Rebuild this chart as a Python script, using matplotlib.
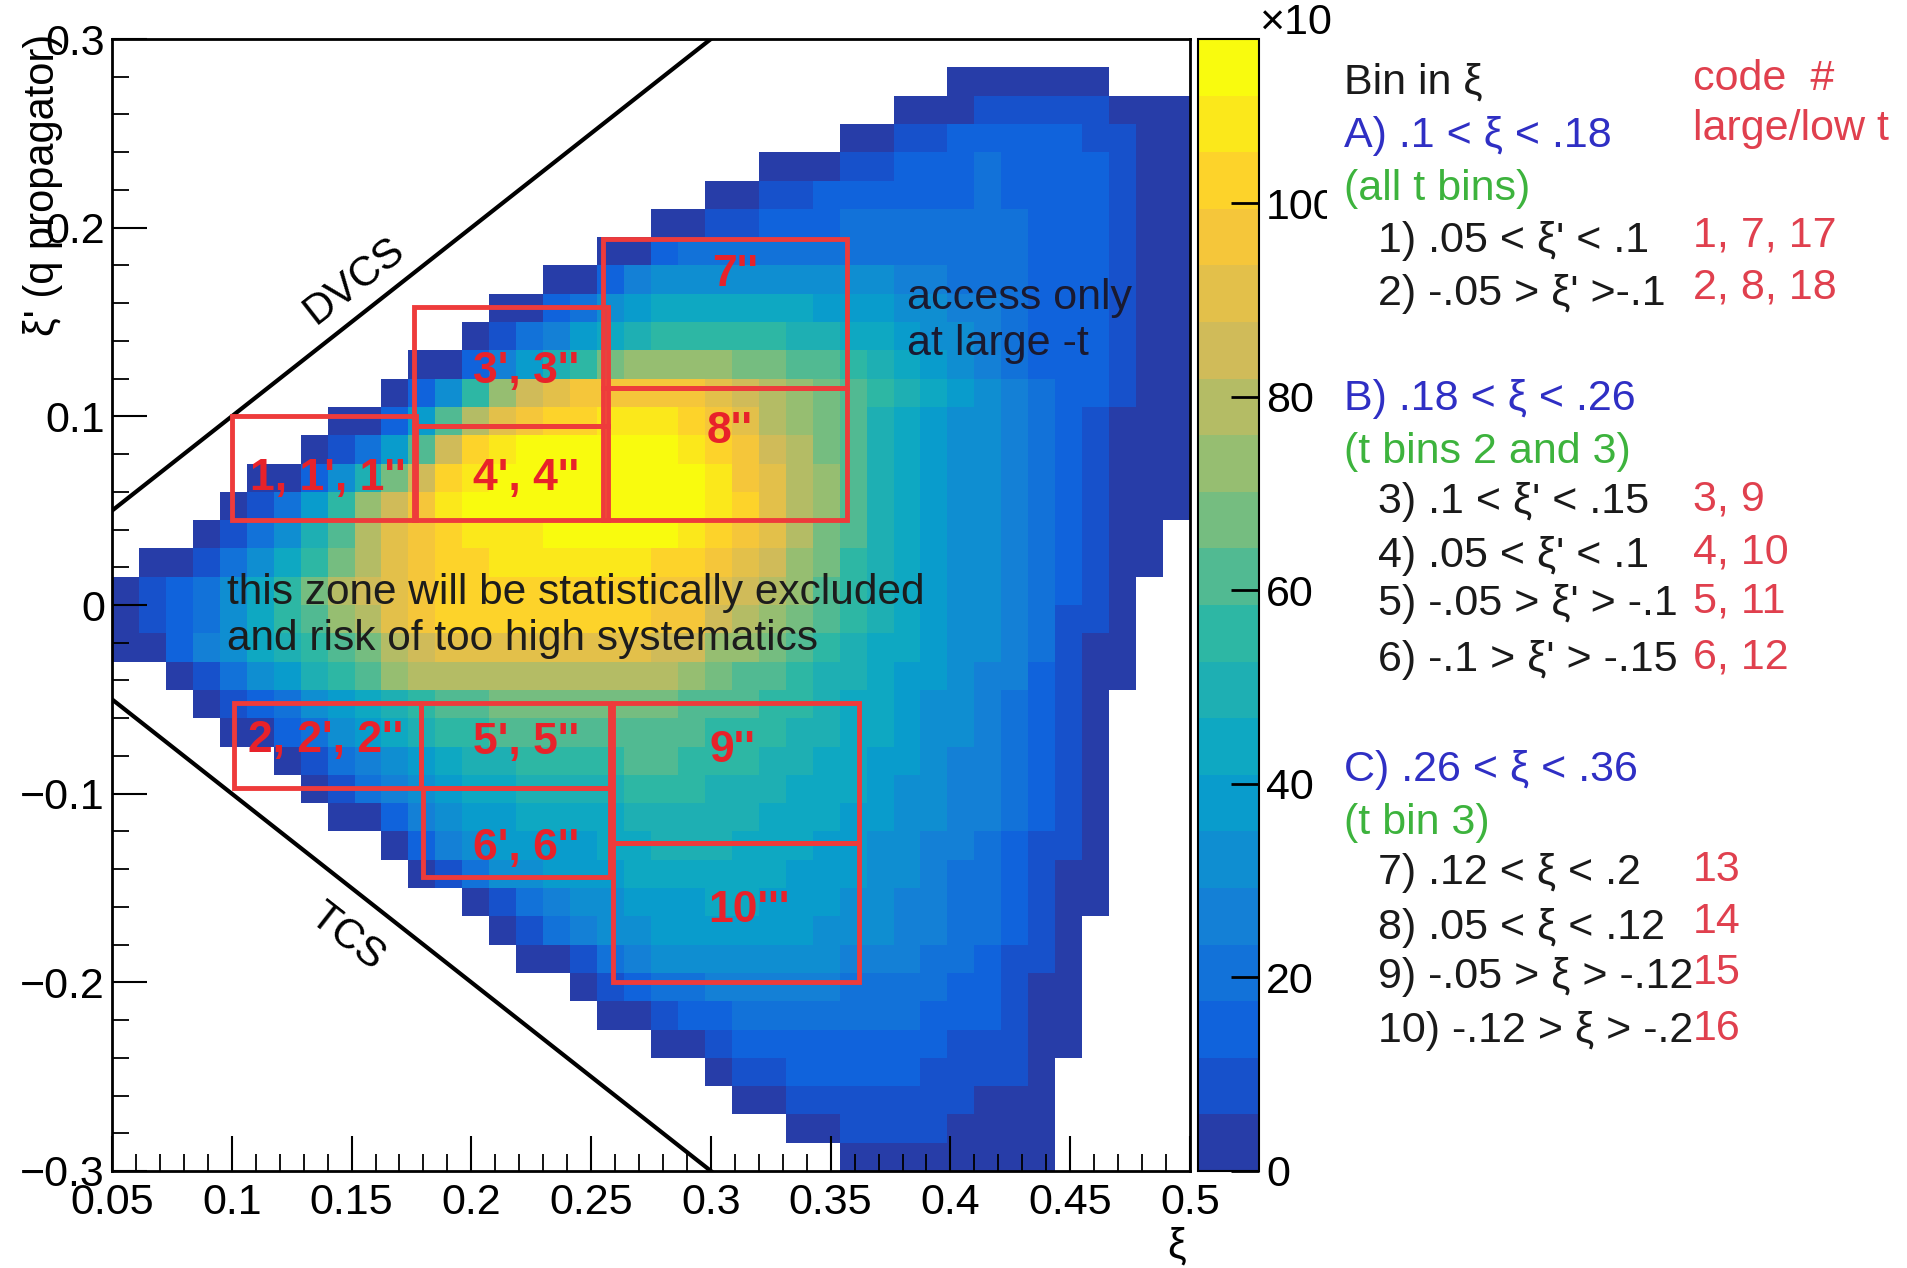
import numpy as np
import matplotlib
matplotlib.use("Agg")
import matplotlib.pyplot as plt
from matplotlib.colors import LinearSegmentedColormap, ListedColormap, BoundaryNorm
from matplotlib.patches import Rectangle

plt.rcParams['font.family'] = ['Liberation Sans', 'DejaVu Sans']

# ---------------- data ----------------
XI_EDGES = np.linspace(0.05, 0.5, 41)      # 40 bins in xi
XIP_EDGES = np.linspace(-0.3, 0.3, 41)     # 40 bins in xi'
Z_MAX = 117.0
N_LEVELS = 20

# first filled column of each row (row 0 = top of plot)
ROW_START = [0, 31, 29, 27, 24, 22, 20, 18, 16, 14,
             13, 11, 10, 8, 7, 5, 4, 3, 1, 0,
             0, 0, 2, 3, 4, 6, 7, 8, 10, 11,
             13, 14, 15, 17, 18, 20, 22, 23, 25, 27]

# colour-band index (0..19) read for each filled cell, left to right
ROW_LEVELS = [
    [],
    [0, 0, 0, 0, 0, 0],
    [0, 0, 0, 1, 1, 1, 1, 1, 0, 0, 0],
    [0, 0, 1, 1, 2, 2, 2, 2, 2, 1, 1, 0, 0],
    [0, 0, 0, 1, 1, 2, 2, 2, 3, 2, 2, 2, 2, 1, 0, 0],
    [0, 0, 1, 1, 2, 2, 2, 2, 2, 2, 3, 2, 2, 2, 2, 1, 0, 0],
    [0, 0, 1, 1, 2, 2, 2, 3, 3, 3, 3, 3, 3, 3, 2, 2, 2, 1, 0, 0],
    [0, 0, 2, 3, 3, 3, 3, 3, 3, 3, 3, 3, 3, 3, 3, 3, 2, 2, 2, 1, 0, 0],
    [0, 0, 2, 4, 5, 5, 5, 5, 5, 5, 5, 5, 5, 4, 4, 3, 3, 3, 2, 2, 2, 1, 0, 0],
    [0, 0, 2, 3, 5, 6, 7, 7, 7, 7, 7, 7, 6, 6, 6, 5, 5, 4, 4, 3, 2, 2, 2, 1, 0, 0],
    [0, 1, 3, 4, 6, 7, 8, 9, 9, 9, 9, 9, 8, 8, 7, 7, 6, 5, 5, 4, 3, 2, 2, 2, 1, 0, 0],
    [0, 0, 2, 4, 6, 8, 9, 11, 12, 12, 12, 12, 11, 11, 10, 10, 9, 8, 7, 6, 5, 4, 3, 2, 2, 2, 1, 0, 0],
    [0, 2, 5, 9, 12, 14, 15, 16, 16, 16, 16, 16, 15, 14, 13, 12, 11, 10, 9, 8, 7, 6, 5, 4, 3, 2, 2, 1, 0, 0],
    [0, 0, 2, 6, 10, 13, 15, 16, 17, 17, 18, 18, 18, 17, 16, 15, 13, 12, 11, 10, 8, 7, 6, 5, 5, 4, 3, 2, 1, 0, 0, 0],
    [0, 1, 3, 6, 10, 14, 17, 18, 19, 19, 19, 19, 19, 19, 18, 17, 16, 14, 13, 11, 10, 8, 7, 6, 5, 5, 4, 3, 2, 1, 0, 0, 0],
    [0, 0, 2, 5, 8, 11, 14, 17, 18, 19, 19, 19, 19, 19, 19, 19, 19, 18, 16, 15, 13, 12, 10, 8, 7, 6, 5, 5, 4, 3, 2, 1, 0, 0, 0],
    [0, 1, 3, 6, 9, 12, 14, 16, 18, 19, 19, 19, 19, 19, 19, 19, 19, 19, 18, 17, 15, 13, 12, 10, 8, 7, 6, 5, 5, 4, 3, 2, 1, 0, 0, 0],
    [0, 1, 3, 5, 8, 10, 13, 15, 16, 17, 18, 18, 18, 19, 19, 19, 19, 19, 18, 17, 16, 15, 13, 11, 10, 8, 7, 6, 5, 5, 4, 3, 2, 1, 0, 0],
    [0, 0, 1, 3, 5, 7, 9, 11, 13, 15, 16, 17, 17, 18, 18, 18, 18, 18, 18, 17, 17, 16, 15, 14, 12, 11, 9, 8, 7, 6, 5, 5, 4, 3, 2, 1, 0, 0],
    [0, 1, 2, 3, 5, 7, 9, 11, 13, 14, 15, 16, 17, 17, 17, 17, 17, 17, 17, 17, 16, 16, 15, 14, 13, 12, 10, 9, 8, 7, 6, 5, 5, 4, 3, 2, 1, 0],
    [0, 1, 2, 3, 5, 7, 9, 10, 12, 13, 15, 16, 17, 17, 17, 17, 17, 17, 17, 17, 16, 16, 14, 13, 12, 11, 10, 9, 8, 7, 6, 5, 5, 4, 3, 1, 1, 0],
    [0, 0, 2, 4, 5, 7, 8, 9, 10, 11, 13, 14, 15, 15, 15, 15, 15, 15, 15, 15, 14, 14, 12, 12, 11, 10, 9, 8, 7, 7, 6, 5, 5, 4, 3, 1, 0, 0],
    [0, 1, 3, 5, 6, 8, 9, 10, 12, 13, 13, 13, 13, 13, 13, 13, 13, 13, 13, 12, 11, 10, 10, 9, 8, 8, 7, 6, 6, 5, 4, 4, 2, 1, 0, 0],
    [0, 1, 2, 3, 5, 6, 7, 8, 9, 10, 10, 11, 11, 11, 11, 11, 11, 11, 10, 10, 10, 9, 9, 8, 7, 7, 6, 5, 5, 4, 3, 2, 1, 0],
    [0, 0, 2, 3, 5, 6, 7, 8, 9, 9, 10, 10, 10, 10, 10, 10, 10, 10, 9, 9, 9, 8, 8, 7, 7, 6, 5, 5, 4, 3, 2, 1, 0],
    [0, 1, 3, 4, 5, 6, 7, 8, 8, 9, 9, 9, 9, 10, 10, 9, 9, 9, 8, 8, 7, 7, 6, 6, 5, 4, 4, 3, 2, 1, 0],
    [0, 1, 3, 4, 5, 6, 7, 7, 8, 8, 8, 8, 9, 9, 9, 8, 8, 8, 7, 7, 7, 6, 5, 5, 4, 4, 3, 2, 1, 0],
    [0, 0, 2, 4, 5, 6, 6, 7, 7, 7, 7, 8, 8, 8, 8, 8, 7, 7, 7, 6, 6, 5, 5, 4, 4, 3, 2, 1, 0],
    [0, 2, 4, 5, 6, 6, 6, 6, 7, 7, 8, 8, 8, 7, 7, 7, 6, 6, 5, 5, 4, 4, 3, 2, 1, 1, 0],
    [0, 1, 3, 5, 5, 6, 6, 6, 7, 7, 7, 7, 7, 7, 6, 6, 6, 5, 5, 4, 3, 3, 2, 1, 0, 0],
    [0, 1, 3, 4, 5, 5, 6, 6, 6, 7, 7, 6, 6, 6, 5, 5, 4, 4, 3, 3, 2, 1, 0, 0],
    [0, 1, 3, 4, 5, 5, 6, 6, 6, 6, 6, 6, 5, 5, 5, 4, 4, 3, 3, 2, 1, 0],
    [0, 0, 1, 3, 4, 5, 5, 5, 5, 5, 5, 5, 4, 4, 4, 3, 3, 2, 1, 1, 0],
    [0, 1, 2, 3, 3, 4, 4, 4, 4, 4, 3, 3, 3, 3, 2, 2, 1, 0, 0],
    [0, 0, 1, 2, 2, 3, 3, 3, 3, 3, 3, 3, 2, 2, 2, 1, 0, 0],
    [0, 0, 1, 2, 2, 2, 2, 2, 2, 2, 2, 1, 1, 1, 0, 0],
    [0, 1, 1, 2, 2, 2, 2, 2, 1, 1, 1, 1, 0],
    [0, 0, 1, 1, 1, 1, 1, 1, 1, 0, 0, 0],
    [0, 0, 1, 1, 1, 1, 0, 0, 0, 0],
    [0, 0, 0, 0, 0, 0, 0, 0],
]

X_TICKS = [0.05, 0.1, 0.15, 0.2, 0.25, 0.3, 0.35, 0.4, 0.45, 0.5]
X_TICK_LABELS = ["0.05", "0.1", "0.15", "0.2", "0.25", "0.3", "0.35", "0.4", "0.45", "0.5"]
Y_TICKS = [-0.3, -0.2, -0.1, 0.0, 0.1, 0.2, 0.3]
Y_TICK_LABELS = ["\u22120.3", "\u22120.2", "\u22120.1", "0", "0.1", "0.2", "0.3"]
CB_TICKS = [0, 20, 40, 60, 80, 100]
CB_TICK_LABELS = ["0", "20", "40", "60", "80", "100"]

# red analysis boxes: (label, xi_min, xi_max, xip_min, xip_max, label_xi, label_xip)
BOXES = [
    ("1, 1', 1''", 0.100, 0.177, 0.045, 0.100, 0.140, 0.067),
    ("3', 3''",    0.176, 0.257, 0.095, 0.158, 0.223, 0.124),
    ("4', 4''",    0.176, 0.257, 0.045, 0.095, 0.223, 0.067),
    ("7''",        0.255, 0.357, 0.115, 0.194, 0.310, 0.175),
    ("8''",        0.255, 0.357, 0.045, 0.115, 0.308, 0.092),
    ("2, 2', 2''", 0.101, 0.179, -0.097, -0.052, 0.139, -0.072),
    ("5', 5''",    0.179, 0.258, -0.097, -0.052, 0.223, -0.073),
    ("6', 6''",    0.180, 0.258, -0.144, -0.097, 0.223, -0.129),
    ("9''",        0.259, 0.362, -0.126, -0.052, 0.309, -0.077),
    ("10'''",      0.259, 0.362, -0.200, -0.126, 0.316, -0.162),
]

# legend block (text, colour key, x px, y px)
LEGEND_LINES = [
    ("Bin in \u03be", "k", 1344, 83),
    ("A) .1 < \u03be < .18", "b", 1344, 136),
    ("(all t bins)", "g", 1344, 189),
    ("1) .05 < \u03be' < .1", "k", 1378, 241),
    ("2) -.05 > \u03be' >-.1", "k", 1378, 294),
    ("B) .18 < \u03be < .26", "b", 1344, 399),
    ("(t bins 2 and 3)", "g", 1344, 452),
    ("3) .1 < \u03be' < .15", "k", 1378, 502),
    ("4) .05 < \u03be' < .1", "k", 1378, 556),
    ("5) -.05 > \u03be' > -.1", "k", 1378, 604),
    ("6) -.1 > \u03be' > -.15", "k", 1378, 660),
    ("C) .26 < \u03be < .36", "b", 1344, 770),
    ("(t bin 3)", "g", 1344, 823),
    ("7) .12 < \u03be < .2", "k", 1378, 873),
    ("8) .05 < \u03be < .12", "k", 1378, 928),
    ("9) -.05 > \u03be > -.12", "k", 1378, 977),
    ("10) -.12 > \u03be > -.2", "k", 1378, 1031),
    ("code  #", "r", 1693, 79),
    ("large/low t", "r", 1693, 129),
    ("1, 7, 17", "r", 1693, 235),
    ("2, 8, 18", "r", 1693, 288),
    ("3, 9", "r", 1693, 499),
    ("4, 10", "r", 1693, 553),
    ("5, 11", "r", 1693, 602),
    ("6, 12", "r", 1693, 658),
    ("13", "r", 1693, 870),
    ("14", "r", 1693, 922),
    ("15", "r", 1693, 973),
    ("16", "r", 1693, 1029),
]
LEGEND_COLORS = {"k": "#1a1a1a", "b": "#2f2fc4", "g": "#3db33d", "r": "#e0404e"}

# ---------------- build histogram ----------------
Z = np.full((40, 40), np.nan)
for r in range(40):
    s = ROW_START[r]
    lv = ROW_LEVELS[r]
    assert s + len(lv) <= 40, r
    for j, k in enumerate(lv):
        Z[39 - r, s + j] = (k + 0.5) * Z_MAX / N_LEVELS

# ROOT kBird palette
stops = [0.0, 0.125, 0.25, 0.375, 0.5, 0.625, 0.75, 0.875, 1.0]
red = [0.2082, 0.0592, 0.0780, 0.0232, 0.1802, 0.5301, 0.8186, 0.9956, 0.9764]
green = [0.1664, 0.3599, 0.5041, 0.6419, 0.7178, 0.7492, 0.7328, 0.7862, 0.9832]
blue = [0.5293, 0.8684, 0.8385, 0.7914, 0.6425, 0.4662, 0.3499, 0.1968, 0.0539]
bird = LinearSegmentedColormap.from_list("bird", list(zip(stops, zip(red, green, blue))))
band_colors = [bird(min(1.0, (k + 0.99) / N_LEVELS)) for k in range(N_LEVELS)]
cmap = ListedColormap(band_colors)
cmap.set_bad((1, 1, 1, 0))
norm = BoundaryNorm(np.linspace(0, Z_MAX, N_LEVELS + 1), N_LEVELS)

# ---------------- figure ----------------
W, H = 1907, 1268
fig = plt.figure(figsize=(W / 100, H / 100), dpi=100)
fig.patch.set_facecolor("white")

def fx(px):
    return px / W

def fy(py):
    return 1 - py / H

ax = fig.add_axes([fx(112), fy(1171), fx(1190) - fx(112), fy(39) - fy(1171)])
mesh = ax.pcolormesh(XI_EDGES, XIP_EDGES, np.ma.masked_invalid(Z), cmap=cmap, norm=norm,
                     edgecolors="none", antialiased=False, zorder=1)
ax.set_xlim(0.05, 0.5)
ax.set_ylim(-0.3, 0.3)

ax.set_xticks(X_TICKS)
ax.set_xticklabels(X_TICK_LABELS)
ax.set_yticks(Y_TICKS)
ax.set_yticklabels(Y_TICK_LABELS)
ax.set_xticks(np.arange(0.05, 0.5001, 0.01), minor=True)
ax.set_yticks(np.arange(-0.3, 0.3001, 0.02), minor=True)
ax.tick_params(which="major", direction="in", length=25, width=1.5, labelsize=31,
               top=False, right=False, colors="k")
ax.tick_params(which="minor", direction="in", length=12, width=1.3, top=False, right=False)
ax.tick_params(axis="x", which="major", pad=9)
ax.tick_params(axis="y", which="major", pad=5)
for sp in ax.spines.values():
    sp.set_linewidth(2)
    sp.set_color("k")

# kinematic limits
ax.plot([0.05, 0.3], [0.05, 0.3], color="k", lw=3, zorder=4)
ax.plot([0.05, 0.3], [-0.05, -0.3], color="k", lw=3, zorder=4)
ax.text(0.151, 0.172, "DVCS", rotation=38, fontsize=30, ha="center", va="center", color="k", zorder=5)
ax.text(0.148, -0.176, "TCS", rotation=-38, fontsize=30, ha="center", va="center", color="k", zorder=5)

# red boxes
for lab, x0, x1, y0, y1, lx, ly in BOXES:
    ax.add_patch(Rectangle((x0, y0), x1 - x0, y1 - y0, fill=False, edgecolor="#ee3b3b",
                           lw=3.5, zorder=6))
    ax.text(lx, ly, lab, color="#e8222a", fontsize=32, fontweight="bold",
            ha="center", va="center", zorder=7)

ax.text(0.098, -0.0058, "this zone will be statistically excluded\nand risk of too high systematics",
        fontsize=30.5, color="#1c1c1c", ha="left", va="center", linespacing=1.2, zorder=7)
ax.text(0.3818, 0.1507, "access only\nat large -t", fontsize=31, color="#1a1a30",
        ha="left", va="center", linespacing=1.2, zorder=7)

# axis titles
fig.text(fx(43), fy(34), "\u03be' (q propagator)", rotation=90, ha="center", va="top", fontsize=30)
fig.text(fx(1177), fy(1247), "\u03be", ha="center", va="center", fontsize=30)

# colour bar
cax = fig.add_axes([fx(1198), fy(1171), fx(1259) - fx(1198), fy(39) - fy(1171)])
cb = fig.colorbar(mesh, cax=cax, ticks=CB_TICKS)
cb.ax.set_yticklabels(CB_TICK_LABELS)
cb.outline.set_linewidth(1.5)
cax.tick_params(direction="in", length=20, width=2, labelsize=31, pad=5, right=True, left=False)
cax.minorticks_off()
fig.text(fx(1259), fy(34), "\u00d710", ha="left", va="baseline", fontsize=31)

# white panel of the pasted legend (covers end of "100")
fig.patches.append(Rectangle((fx(1327), 0), 1 - fx(1327), fy(40), transform=fig.transFigure,
                             facecolor="white", edgecolor="none", zorder=20))

for txt, ck, px, py in LEGEND_LINES:
    fig.text(fx(px), fy(py), txt, color=LEGEND_COLORS[ck], ha="left", va="center",
             fontsize=31, zorder=30)

fig.savefig("out.png", dpi=100, facecolor="white")
